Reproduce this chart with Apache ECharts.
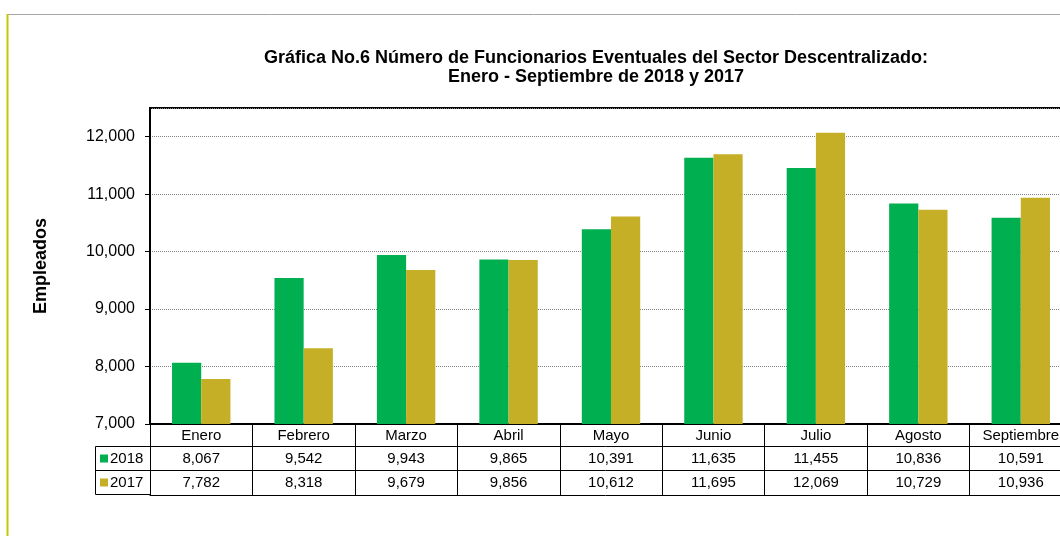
<!DOCTYPE html>
<html>
<head>
<meta charset="utf-8">
<script src="https://cdn.jsdelivr.net/npm/echarts@6/dist/echarts.min.js"></script>
<style>
  html, body { margin: 0; padding: 0; background: #fff; }
  #chart { width: 1060px; height: 536px; }
</style>
</head>
<body>
<div id="chart"></div>
<script>
// datos
const meses = ['Enero', 'Febrero', 'Marzo', 'Abril', 'Mayo', 'Junio', 'Julio', 'Agosto', 'Septiembre']
const datos2018 = [8067, 9542, 9943, 9865, 10391, 11635, 11455, 10836, 10591]
const datos2017 = [7782, 8318, 9679, 9856, 10612, 11695, 12069, 10729, 10936]

const FONT = '"Liberation Sans", Arial, sans-serif'
const fmt = v => v.toLocaleString('en-US')

const myChart = echarts.init(document.getElementById('chart'))

// filas de la tabla de datos como ejes x extra
const filaTabla = (offset, valores) => ({
  type: 'category',
  data: meses,
  position: 'bottom',
  offset,
  axisLine: { lineStyle: { color: '#000', width: 1 } },
  axisTick: { show: false },
  axisLabel: {
    show: !!valores,
    margin: 5,
    fontFamily: FONT,
    fontSize: 15,
    color: '#000',
    formatter: (v, i) => valores ? fmt(valores[i]) : ''
  }
})

const option = {
  backgroundColor: '#fff',
  animation: false,
  title: {
    text: 'Gráfica No.6 Número de Funcionarios Eventuales del Sector Descentralizado:\nEnero - Septiembre de 2018 y 2017',
    left: 591,
    top: 44,
    textAlign: 'center',
    textStyle: { fontFamily: FONT, fontSize: 18, fontWeight: 'bold', color: '#000', lineHeight: 19 }
  },
  legend: {
    orient: 'vertical',
    left: 95,
    top: 446,
    itemWidth: 8,
    itemHeight: 8,
    itemGap: 9,
    icon: 'rect',
    textStyle: { fontFamily: FONT, fontSize: 15, color: '#000', padding: [0, 0, 0, -3], lineHeight: 15 },
    data: ['2018', '2017']
  },
  grid: {
    left: 150,
    top: 108,
    width: 922,
    height: 316,
    outerBoundsMode: 'none',
    show: true,
    borderColor: '#000',
    borderWidth: 2
  },
  xAxis: [
    {
      type: 'category',
      data: meses,
      position: 'bottom',
      axisLine: { lineStyle: { color: '#000', width: 2 } },
      axisTick: { show: true, length: 71, lineStyle: { color: '#000', width: 1 } },
      axisLabel: { margin: 4, fontFamily: FONT, fontSize: 15, color: '#000' }
    },
    filaTabla(22, datos2018),
    filaTabla(46, datos2017),
    filaTabla(71, null)
  ],
  yAxis: {
    type: 'value',
    min: 7000,
    max: 12500,
    interval: 1000,
    name: 'Empleados',
    nameLocation: 'middle',
    nameGap: 100,
    nameTextStyle: { fontFamily: FONT, fontSize: 18, fontWeight: 'bold', color: '#000' },
    axisLine: { show: true, lineStyle: { color: '#000', width: 2 } },
    axisTick: { show: true, length: 5, lineStyle: { color: '#000' } },
    axisLabel: {
      showMaxLabel: false,
      margin: 15,
      fontFamily: FONT,
      fontSize: 16,
      color: '#000',
      formatter: v => fmt(v)
    },
    splitLine: { lineStyle: { color: '#808080', type: 'dotted', width: 1 } }
  },
  series: [
    {
      name: '2018',
      type: 'bar',
      data: datos2018,
      barGap: '0%',
      barCategoryGap: '43%',
      itemStyle: { color: '#00B050' }
    },
    {
      name: '2017',
      type: 'bar',
      data: datos2017,
      itemStyle: { color: '#C5AF27' }
    }
  ],
  graphic: [
    // marco exterior
    { type: 'line', shape: { x1: 7, y1: 14.5, x2: 1060, y2: 14.5 }, style: { stroke: '#a6a6a6', lineWidth: 1 } },
    { type: 'line', shape: { x1: 7.5, y1: 14, x2: 7.5, y2: 536 }, style: { stroke: '#c8c800', lineWidth: 2 } },
    // columna de leyenda de la tabla
    { type: 'rect', shape: { x: 95.5, y: 446.5, width: 55, height: 48 }, style: { fill: 'none', stroke: '#000', lineWidth: 1 } },
    { type: 'line', shape: { x1: 95.5, y1: 470.5, x2: 150, y2: 470.5 }, style: { stroke: '#000', lineWidth: 1 } }
  ]
}

myChart.setOption(option)
window.addEventListener('resize', () => myChart.resize())
</script>
</body>
</html>
